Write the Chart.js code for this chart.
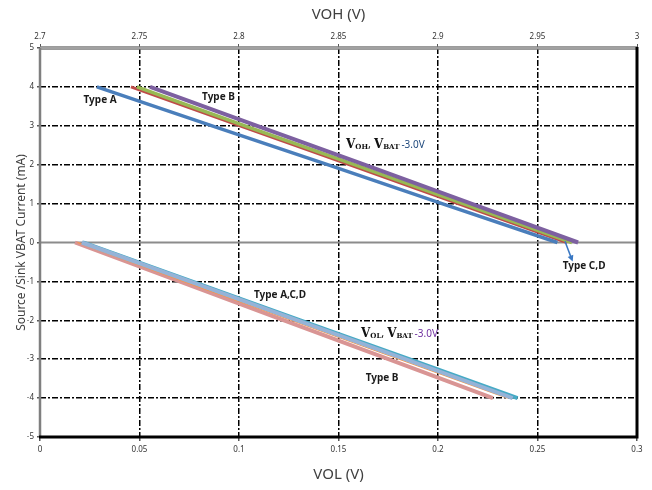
<!DOCTYPE html>
<html>
<head>
<meta charset="utf-8">
<script src="https://cdn.jsdelivr.net/npm/chart.js@4"></script>
<style>
  html, body { margin: 0; padding: 0; background: #fff; }
  #wrap { width: 652px; height: 490px; }
</style>
</head>
<body>
<div id="wrap"><canvas id="chart" width="652" height="490"></canvas></div>
<script>
// source current (mA) for the VOH curves, sink current for the VOL curves
var vohCurrent = [4, 3, 2, 1, 0];
var volCurrent = [0, -1, -2, -3, -4];

// VOH (V)
var vohTypeA = [2.7286, 2.7865, 2.8445, 2.9020, 2.9600];
var vohRed = [2.7457, 2.8005, 2.8553, 2.9100, 2.9648];
var vohGreen = [2.7487, 2.8030, 2.8580, 2.9126, 2.9673];
var vohPurple = [2.7553, 2.8091, 2.8630, 2.9167, 2.9704];

// VOL (V)
var volTypeB = [0.0176, 0.0701, 0.1226, 0.1751, 0.2276];
var volOrange = [0.0188, 0.0722, 0.1262, 0.1805, 0.2350];
var volLightBlue = [0.0210, 0.0752, 0.1293, 0.1835, 0.2375];
var volTeal = [0.0215, 0.0762, 0.1308, 0.1855, 0.2400];

var volTicks = [0, 0.05, 0.1, 0.15, 0.2, 0.25, 0.3];
var vohTicks = [2.7, 2.75, 2.8, 2.85, 2.9, 2.95, 3];
var currentTicks = [-5, -4, -3, -2, -1, 0, 1, 2, 3, 4, 5];

var FONT = '"Noto Sans", "Open Sans", sans-serif';

function pts(xs, ys) {
  var out = [];
  for (var i = 0; i < xs.length; i++) {
    out.push({ x: xs[i], y: ys[i] });
  }
  return out;
}

function line(label, xs, ys, color, width, xAxis, order) {
  return {
    label: label,
    data: pts(xs, ys),
    xAxisID: xAxis,
    borderColor: color,
    backgroundColor: color,
    borderWidth: width,
    showLine: true,
    pointRadius: 0,
    tension: 0,
    order: order
  };
}

function fmt(v) {
  return String(Number(v.toFixed(2)));
}

var gridDash = [6, 2, 2, 2];

// zero line + frame round the plot area
var framePlugin = {
  id: 'frame',
  beforeDatasetsDraw: function (chart) {
    var ctx = chart.ctx;
    var a = chart.chartArea;
    var y0 = chart.scales.y.getPixelForValue(0);
    ctx.save();
    ctx.strokeStyle = '#8c8c8c';
    ctx.lineWidth = 2;
    ctx.beginPath();
    ctx.moveTo(a.left, y0);
    ctx.lineTo(a.right, y0);
    ctx.stroke();
    ctx.restore();
  },
  afterDatasetsDraw: function (chart) {
    var ctx = chart.ctx;
    var a = chart.chartArea;
    ctx.save();
    // top: grey double line
    ctx.strokeStyle = '#7a7a7a';
    ctx.lineWidth = 3.5;
    ctx.beginPath();
    ctx.moveTo(a.left, a.top);
    ctx.lineTo(a.right, a.top);
    ctx.stroke();
    ctx.strokeStyle = '#c8c8c8';
    ctx.lineWidth = 1;
    ctx.beginPath();
    ctx.moveTo(a.left, a.top);
    ctx.lineTo(a.right, a.top);
    ctx.stroke();
    // left
    ctx.strokeStyle = '#7f7f7f';
    ctx.lineWidth = 2.5;
    ctx.beginPath();
    ctx.moveTo(a.left, a.top);
    ctx.lineTo(a.left, a.bottom);
    ctx.stroke();
    // bottom and right: black
    ctx.strokeStyle = '#000';
    ctx.lineWidth = 3;
    ctx.beginPath();
    ctx.moveTo(a.left - 1, a.bottom);
    ctx.lineTo(a.right, a.bottom);
    ctx.lineTo(a.right, a.top - 1);
    ctx.stroke();
    ctx.restore();
  }
};

// text labels placed in data coordinates (bottom axis / current)
function subLabel(ctx, x, y, parts) {
  var cx = x;
  for (var i = 0; i < parts.length; i++) {
    var p = parts[i];
    ctx.font = p.font;
    ctx.fillStyle = p.color;
    ctx.fillText(p.text, cx, y + (p.dy || 0));
    cx += ctx.measureText(p.text).width + (p.gap || 0);
  }
}

var notePlugin = {
  id: 'notes',
  afterDraw: function (chart) {
    var ctx = chart.ctx;
    var xs = chart.scales.x;
    var ys = chart.scales.y;
    function px(v) { return xs.getPixelForValue(v); }
    function py(v) { return ys.getPixelForValue(v); }
    ctx.save();
    ctx.textBaseline = 'middle';
    ctx.textAlign = 'center';
    ctx.fillStyle = '#1a1a1a';
    ctx.font = 'bold 10px ' + FONT;
    ctx.fillText('Type A', px(0.0302), py(3.66));
    ctx.fillText('Type B', px(0.0897), py(3.74));
    ctx.fillText('Type C,D', px(0.2734), py(-0.6));
    ctx.fillText('Type A,C,D', px(0.1206), py(-1.36));
    ctx.fillText('Type B', px(0.1719), py(-3.50));

    // arrow to the Type C,D ends
    var ax0 = px(0.2638), ay0 = py(0.03);
    var ax1 = px(0.2673), ay1 = py(-0.44);
    ctx.strokeStyle = '#3a78c3';
    ctx.fillStyle = '#3a78c3';
    ctx.lineWidth = 1.5;
    ctx.beginPath();
    ctx.moveTo(ax0, ay0);
    ctx.lineTo(ax1, ay1);
    ctx.stroke();
    var ang = Math.atan2(ay1 - ay0, ax1 - ax0);
    ctx.beginPath();
    ctx.moveTo(ax1 + 2 * Math.cos(ang), ay1 + 2 * Math.sin(ang));
    ctx.lineTo(ax1 - 4 * Math.cos(ang) - 3 * Math.sin(ang), ay1 - 4 * Math.sin(ang) + 3 * Math.cos(ang));
    ctx.lineTo(ax1 - 4 * Math.cos(ang) + 3 * Math.sin(ang), ay1 - 4 * Math.sin(ang) - 3 * Math.cos(ang));
    ctx.closePath();
    ctx.fill();

    ctx.textAlign = 'left';
    ctx.textBaseline = 'alphabetic';
    var serifBig = 'bold 12px "DejaVu Serif", "Liberation Serif", serif';
    var serifSub = 'bold 7px "DejaVu Serif", "Liberation Serif", serif';
    var dark = '#111';
    subLabel(ctx, px(0.1538), py(2.44), [
      { text: 'V', font: serifBig, color: dark },
      { text: 'OH', font: serifSub, color: dark, dy: 1 },
      { text: ', ', font: '11px ' + FONT, color: dark },
      { text: 'V', font: serifBig, color: dark },
      { text: 'BAT', font: serifSub, color: dark, dy: 1, gap: 2 },
      { text: '-3.0V', font: '10px ' + FONT, color: '#1f497d' }
    ]);
    subLabel(ctx, px(0.1613), py(-2.44), [
      { text: 'V', font: serifBig, color: dark },
      { text: 'OL', font: serifSub, color: dark, dy: 1 },
      { text: ', ', font: '11px ' + FONT, color: dark },
      { text: 'V', font: serifBig, color: dark },
      { text: 'BAT', font: serifSub, color: dark, dy: 1, gap: 2 },
      { text: '-3.0V', font: '10px ' + FONT, color: '#7030a0' }
    ]);
    ctx.restore();
  }
};

var datasets = [
  line('VOH Type A', vohTypeA, vohCurrent, '#4a7ebb', 3.5, 'x2', 1),
  line('VOH red', vohRed, vohCurrent, '#be4b48', 3, 'x2', 4),
  line('VOH green', vohGreen, vohCurrent, '#98b954', 3.5, 'x2', 3),
  line('VOH purple', vohPurple, vohCurrent, '#7d60a0', 4, 'x2', 2),
  line('VOL Type B', volTypeB, volCurrent, '#d99594', 4, 'x', 8),
  line('VOL teal', volTeal, volCurrent, '#46aac5', 4, 'x', 7),
  line('VOL orange', volOrange, volCurrent, '#f79646', 1.2, 'x', 6),
  line('VOL light blue', volLightBlue, volCurrent, '#95b3d7', 4, 'x', 5)
];

new Chart(document.getElementById('chart'), {
  type: 'scatter',
  data: { datasets: datasets },
  plugins: [framePlugin, notePlugin],
  options: {
    responsive: false,
    animation: false,
    layout: { padding: { left: 0, right: 15, top: 0, bottom: 0 } },
    plugins: { legend: { display: false }, tooltip: { enabled: false } },
    scales: {
      x: {
        type: 'linear',
        position: 'bottom',
        min: 0,
        max: 0.3,
        afterBuildTicks: function (scale) {
          scale.ticks = volTicks.map(function (v) { return { value: v }; });
        },
        afterFit: function (scale) { scale.height = 53; },
        ticks: {
          callback: fmt,
          font: { family: FONT, size: 8 },
          color: '#333',
          padding: 4,
          maxRotation: 0
        },
        grid: {
          color: function (c) {
            var v = c.tick ? c.tick.value : 0;
            return (v <= 0.0001 || v >= 0.2999) ? 'rgba(0,0,0,0)' : '#000';
          },
          lineWidth: 1.5,
          tickLength: 4,
          tickColor: '#555'
        },
        border: { display: false, dash: gridDash },
        title: {
          display: true,
          text: 'VOL (V)',
          font: { family: FONT, size: 15 },
          color: '#404040',
          padding: { top: 0, bottom: 6 }
        }
      },
      x2: {
        type: 'linear',
        position: 'top',
        min: 2.7,
        max: 3,
        afterBuildTicks: function (scale) {
          scale.ticks = vohTicks.map(function (v) { return { value: v }; });
        },
        afterFit: function (scale) { scale.height = 48; },
        ticks: {
          callback: fmt,
          font: { family: FONT, size: 8 },
          color: '#333',
          padding: 2,
          maxRotation: 0
        },
        grid: { drawOnChartArea: false, tickLength: 4, tickColor: '#555' },
        border: { display: false },
        title: {
          display: true,
          text: 'VOH (V)',
          font: { family: FONT, size: 15 },
          color: '#404040',
          padding: { top: 6, bottom: 0 }
        }
      },
      y: {
        type: 'linear',
        min: -5,
        max: 5,
        afterBuildTicks: function (scale) {
          scale.ticks = currentTicks.map(function (v) { return { value: v }; });
        },
        afterFit: function (scale) { scale.width = 40; },
        ticks: {
          font: { family: FONT, size: 8 },
          color: '#333',
          padding: 3
        },
        grid: {
          color: function (c) {
            var v = c.tick ? c.tick.value : 0;
            return (v === 0 || v === 5 || v === -5) ? 'rgba(0,0,0,0)' : '#000';
          },
          lineWidth: 1.5,
          tickLength: 3,
          tickColor: '#555'
        },
        border: { display: false, dash: gridDash },
        title: {
          display: true,
          text: 'Source /Sink VBAT Current (mA)',
          font: { family: FONT, size: 12 },
          color: '#404040',
          padding: { top: 14, bottom: 0 }
        }
      }
    }
  }
});
</script>
</body>
</html>
